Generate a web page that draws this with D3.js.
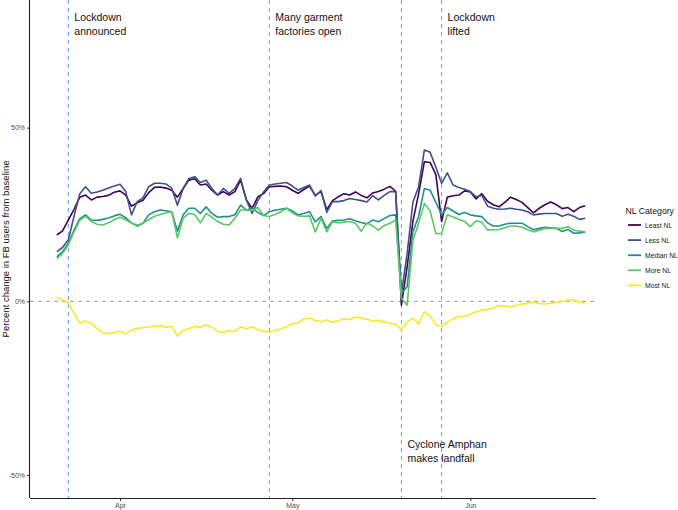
<!DOCTYPE html>
<html><head><meta charset="utf-8">
<script src="https://cdn.jsdelivr.net/npm/d3@7"></script>
<style>body{margin:0;background:#fff}svg{display:block;font-family:"Liberation Sans",Arial,Helvetica,sans-serif}</style>
</head><body><svg id="c" width="678" height="510"></svg>
<script>
const startDate = "2020-03-21";
const categories = ["Least NL","Less NL","Median NL","More NL","Most NL"];
const colors = ["#440154","#3B528B","#21908C","#5DC863","#FDE725"];
const leastNL = [19.1,20.3,23.4,26.5,30,30.6,29.2,30,30.2,30.5,31.4,31.8,30.6,27.4,28.4,29.1,31.3,32.8,32.9,32.6,32,30,32.5,34.9,35.3,33.5,33.8,32,30.6,31.6,30.6,31.6,34.9,29.2,26.8,30.1,31,33,33.1,33.2,33,32,31.1,32.2,33.2,30.5,31.6,26.4,29,30.1,31,30.6,31.5,30.5,29.8,31.2,31.6,32.3,33.1,31.7,-1.1,10,23,31,40.2,40,36.5,23,30,30.4,30.6,31.8,31.5,29.5,31,28.8,27.8,27.2,28.5,30,29.3,28.5,27,25.5,26.8,27.8,28.6,27.8,26.7,27,25.8,27,27.5];
const lessNL = [14.3,15.5,17.7,24.5,31,33,31.1,31.5,32,32.6,33.2,33.7,31.6,24.9,28.7,29.8,33,34,34,33.8,32.6,27.7,32.5,35.4,35.9,34.2,34.9,32.5,30.6,32.5,31.1,32.5,35.4,29.2,25.3,29,31.5,33.5,33.8,34,34.2,33.2,32,32.8,33.5,30.3,31.9,25.6,28.7,28.7,29,29.6,29.3,29,28.6,30.4,29.2,30.5,31.6,31.6,2.3,13.8,28.5,33,43.6,42.9,38.6,34,37,33.5,32.8,32.3,31.6,30.1,30.5,27.4,26.8,26.5,26.6,26.8,26.5,26.3,25.8,24.9,25.1,25.3,25.3,25.3,24.5,25.1,24.5,23.6,23.9];
const medianNL = [12.8,14.3,16.7,20.5,23.8,24.9,23.4,23.3,23.6,24,24.6,25.1,24,22.6,21.7,22.5,24.9,25.8,26.3,26.1,25.8,20.2,24.9,26.8,26.8,25.3,27.2,25.3,24.2,24.4,24.4,24.9,27.7,26.3,26.8,25.6,24.7,25.8,26.2,26.5,26.8,26,24.9,25.3,25.8,22.9,24.4,21,23.1,23.3,23.4,23.8,23.2,22.7,22.3,23.4,22.9,23.8,24.7,24.9,2.3,4.2,20,24.5,32.5,32,28.5,24.9,27,26,25,25.6,24.9,24.6,24.4,22.6,21.7,21.7,22.2,22.5,22.5,22.5,21.5,20.6,21,21.3,21.2,21,20.1,20.7,19.6,19.7,19.9];
const moreNL = [12.3,13.8,16.2,20,23.3,24.5,23,22.2,22,22.6,23.5,24.2,23.5,22.5,22,22.5,23.5,24.5,25,25.5,25.8,18.3,23.9,25.3,25,22.6,25.3,24.2,23,22.2,22,23.9,26.3,26.3,26.1,27,24.7,24.4,25,25.8,26.8,25.5,24.6,24.5,24.6,20,23.9,20,22.9,22.6,22.8,23,22.5,20.2,22.6,21.7,20.5,21.8,22.5,23.4,0.9,-1.1,17.5,22.5,28.2,26,19.5,19.6,24.9,24.3,23.6,23,21.5,23.2,22.8,20.5,20.6,20.7,21.2,21.7,21.7,21.3,20.6,20,20.5,21,21,21,21,21.5,20.5,20.2,20];
const mostNL = [1.2,0.4,-0.4,-3.5,-6.3,-5.7,-6.3,-7.8,-9.2,-9.3,-9,-8.6,-9.4,-8.3,-7.8,-7.6,-7.4,-7.2,-7,-7.5,-7.2,-10,-8.4,-7.8,-7.2,-7.5,-6.8,-7.4,-8.7,-8.9,-8.5,-8.7,-7.4,-7.9,-7.3,-8.2,-8.6,-8.9,-8.4,-8,-7.3,-6.5,-6.2,-5.1,-4.8,-5.5,-5.9,-5.4,-6,-5.6,-5,-5.3,-4.5,-4.8,-5.2,-5.7,-5.5,-6,-6.3,-6.6,-8.2,-6,-4.8,-6.5,-3,-4.2,-6.8,-7.2,-6,-5,-4.4,-4.3,-3.8,-3,-2.5,-2.4,-1.9,-1.2,-1.4,-1.6,-1.2,-0.8,-0.6,-0.2,-0.6,-0.8,-0.6,-0.3,-0.1,0.5,0.3,-0.3,-0.5];
const seriesValues = [leastNL, lessNL, medianNL, moreNL, mostNL];
const yTicks = [-50, 0, 50];
const xTickDates = ["2020-04-01","2020-05-01","2020-06-01"];
const xTickLabels = ["Apr","May","Jun"];
const events = [
  {date:"2020-03-23", lines:["Lockdown","announced"], color:"#5b9bf0", pos:"top"},
  {date:"2020-04-27", lines:["Many garment","factories open"], color:"#5b9bf0", pos:"top"},
  {date:"2020-05-20", lines:["Cyclone Amphan","makes landfall"], color:"#9a9a9a", pos:"bottom"},
  {date:"2020-05-27", lines:["Lockdown","lifted"], color:"#5b9bf0", pos:"top"}
];

const parse = d3.utcParse("%Y-%m-%d");
const t0 = parse(startDate);
const dates = leastNL.map((_, i) => d3.utcDay.offset(t0, i));

const svg = d3.select("#c");
const L = 30, R = 596, T = 0, B = 498;
const dayPx = 5.743;
const apr1 = parse("2020-04-01");
const x = d3.scaleUtc()
  .domain([apr1, d3.utcDay.offset(apr1, 80)])
  .range([120, 120 + 80*dayPx]);
const xd = x.copy().domain([x.invert(L), x.invert(R)]).range([L, R]);
const y = d3.scaleLinear().domain([(B-301.3)/-3.472, 301.3/3.472]).range([B, T]);

svg.append("line").attr("x1", L).attr("x2", R).attr("y1", y(0)).attr("y2", y(0))
  .attr("stroke", "#9a9a9a").attr("stroke-width", 1).attr("stroke-dasharray", "4,4");

events.forEach(e => {
  const xp = xd(parse(e.date));
  svg.append("line").attr("x1", xp).attr("x2", xp).attr("y1", T).attr("y2", B)
    .attr("stroke", e.color).attr("stroke-width", 1).attr("stroke-dasharray", "4,4");
  const tx = svg.append("text").attr("x", xp + 6).attr("font-size", 10.5).attr("fill", "#111");
  const y0 = e.pos === "top" ? 20.5 : 448;
  e.lines.forEach((s, k) => tx.append("tspan").attr("x", xp + 6).attr("y", y0 + k*14).text(s));
});

const line = d3.line().x((d, i) => xd(dates[i])).y(d => y(d));
seriesValues.forEach((vals, k) => {
  svg.append("path").datum(vals).attr("d", line).attr("fill", "none")
    .attr("stroke", colors[k]).attr("stroke-width", 1.6).attr("stroke-linejoin", "round");
});

const xAxis = d3.axisBottom(xd).tickValues(xTickDates.map(parse)).tickFormat((d, i) => xTickLabels[i]).tickSize(3).tickPadding(2);
const gx = svg.append("g").attr("transform", `translate(0,${B})`).call(xAxis);
gx.select(".domain").attr("stroke", "#222").attr("stroke-width", 1.1).attr("d", `M${L},0.5H${R}`);
gx.selectAll(".tick line").attr("stroke", "#333");
gx.selectAll(".tick text").attr("font-size", 7).attr("fill", "#4d4d4d").attr("font-family", "Liberation Sans, Arial, sans-serif");

const yAxis = d3.axisLeft(y).tickValues(yTicks).tickFormat(d => d + "%").tickSize(3).tickPadding(2);
const gy = svg.append("g").attr("transform", `translate(${L},0)`).call(yAxis);
gy.select(".domain").attr("stroke", "#222").attr("stroke-width", 1.1).attr("d", `M-0.5,${T}V${B}`);
gy.selectAll(".tick line").attr("stroke", "#333");
gy.selectAll(".tick text").attr("font-size", 7).attr("fill", "#4d4d4d").attr("font-family", "Liberation Sans, Arial, sans-serif");

svg.append("text").attr("transform", `translate(9,${(T+B)/2}) rotate(-90)`)
  .attr("text-anchor", "middle").attr("font-size", 9.5).attr("fill", "#111")
  .text("Percent change in FB users from baseline");

const lg = svg.append("g");
lg.append("text").attr("x", 625.5).attr("y", 213.5).attr("font-size", 8.7).attr("fill", "#111").text("NL Category");
categories.forEach((c, k) => {
  const yy = 225 + k*15.1;
  lg.append("line").attr("x1", 628).attr("x2", 641).attr("y1", yy).attr("y2", yy)
    .attr("stroke", colors[k]).attr("stroke-width", 1.8);
  lg.append("text").attr("x", 645).attr("y", yy + 2.5).attr("font-size", 6.8).attr("fill", "#222").text(c);
});
</script></body></html>
